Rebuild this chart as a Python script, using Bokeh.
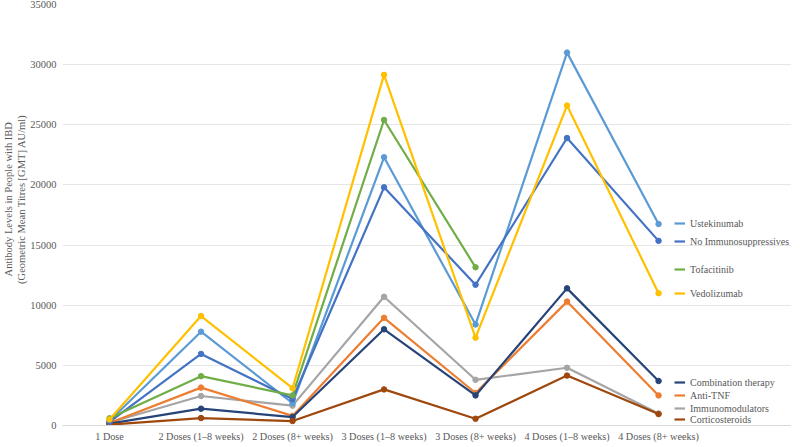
from bokeh.plotting import figure
from bokeh.models import (ColumnDataSource, FixedTicker, Range1d, Legend, LegendItem)
from bokeh.embed import file_html
from bokeh.resources import INLINE

categories = ["1 Dose", "2 Doses (1\u20138 weeks)", "2 Doses (8+ weeks)",
              "3 Doses (1\u20138 weeks)", "3 Doses (8+ weeks)",
              "4 Doses (1\u20138 weeks)", "4 Doses (8+ weeks)"]

ustekinumab = [400, 7800, 1850, 22300, 8400, 31000, 16750]
no_immuno = [300, 5950, 2200, 19800, 11700, 23900, 15350]
tofacitinib = [600, 4100, 2500, 25400, 13150]
vedolizumab = [500, 9100, 3100, 29150, 7300, 26600, 11000]
combination = [150, 1400, 700, 8000, 2500, 11400, 3700]
anti_tnf = [200, 3150, 800, 8950, 2700, 10300, 2500]
immunomod = [250, 2450, 1650, 10700, 3800, 4800, 1000]
cortico = [80, 620, 370, 3000, 560, 4150, 950]

series = [
    ("Ustekinumab", ustekinumab, "#5B9BD5"),
    ("No Immunosuppressives", no_immuno, "#4472C4"),
    ("Tofacitinib", tofacitinib, "#70AD47"),
    ("Vedolizumab", vedolizumab, "#FFC000"),
    ("Combination therapy", combination, "#264478"),
    ("Anti-TNF", anti_tnf, "#ED7D31"),
    ("Immunomodulators", immunomod, "#A5A5A5"),
    ("Corticosteroids", cortico, "#9E480E"),
]

# legend label anchor positions (screen px, from frame bottom-left)
legend_pos = [(612, 196), (612, 178), (612, 150), (612, 126),
              (612, 37), (612, 24), (612, 11), (612, 0)]

FONT = "'Liberation Serif', 'Times New Roman', serif"
TXT = "#595959"

p = figure(frame_width=729, frame_height=421, output_backend="svg", toolbar_location=None,
           x_range=Range1d(-0.514, 7.453), y_range=Range1d(0, 35000),
           min_border_left=55, min_border_right=0, min_border_top=4,
           min_border_bottom=0)
p.outline_line_color = None
p.background_fill_color = "white"

order = [6, 5, 4, 7, 0, 1, 2, 3]
renderers = {}
for idx in order:
    name, vals, color = series[idx]
    src = ColumnDataSource(dict(x=list(range(len(vals))), y=vals))
    r = p.line("x", "y", source=src, line_color=color, line_width=2.2)
    p.scatter("x", "y", source=src, size=5.5, fill_color=color, line_color=color)
    renderers[idx] = r

for idx, (name, vals, color) in enumerate(series):
    lg = Legend(items=[LegendItem(label=name, renderers=[renderers[idx]])],
                location=legend_pos[idx], orientation="vertical",
                padding=0, margin=0, spacing=0, border_line_color=None,
                background_fill_alpha=0, label_text_font=FONT,
                label_text_font_size="10px", label_text_color=TXT,
                label_text_font_style="normal",
                glyph_width=11, glyph_height=12, label_height=12,
                label_standoff=5, label_text_baseline="middle")
    p.add_layout(lg, "center")

p.xaxis.ticker = FixedTicker(ticks=list(range(len(categories))))
p.xaxis.major_label_overrides = {i: c for i, c in enumerate(categories)}
p.xaxis.major_tick_line_color = None
p.xaxis.major_tick_out = 0
p.xaxis.major_tick_in = 0
p.xaxis.minor_tick_line_color = None
p.xaxis.axis_line_color = "#D9D9D9"
p.xaxis.major_label_standoff = 5
p.xaxis.major_label_text_font = FONT
p.xaxis.major_label_text_font_size = "10.2px"
p.xaxis.major_label_text_font_style = "normal"
p.xaxis.major_label_text_color = TXT
p.xgrid.grid_line_color = None

pad = "\u00a0" * 12
p.yaxis.ticker = FixedTicker(ticks=list(range(0, 35001, 5000)))
p.yaxis.major_tick_line_color = None
p.yaxis.major_tick_out = 0
p.yaxis.major_tick_in = 0
p.yaxis.minor_tick_line_color = None
p.yaxis.axis_line_color = None
p.yaxis.major_label_standoff = 6
p.yaxis.major_label_text_font = FONT
p.yaxis.major_label_text_font_size = "10.5px"
p.yaxis.major_label_text_font_style = "normal"
p.yaxis.major_label_text_color = TXT
p.yaxis.formatter.use_scientific = False
p.yaxis.axis_label = (pad + "Antibody Levels in People with IBD\n"
                      + pad + "(Geometric Mean Titres [GMT] AU/ml)")
p.yaxis.axis_label_standoff = 0
p.yaxis.axis_label_text_font = FONT
p.yaxis.axis_label_text_font_size = "10.5px"
p.yaxis.axis_label_text_font_style = "normal"
p.yaxis.axis_label_text_color = TXT
p.ygrid.grid_line_color = "#E6E6E6"
p.ygrid.grid_line_width = 1

open("out.html", "w").write(file_html(p, INLINE))
